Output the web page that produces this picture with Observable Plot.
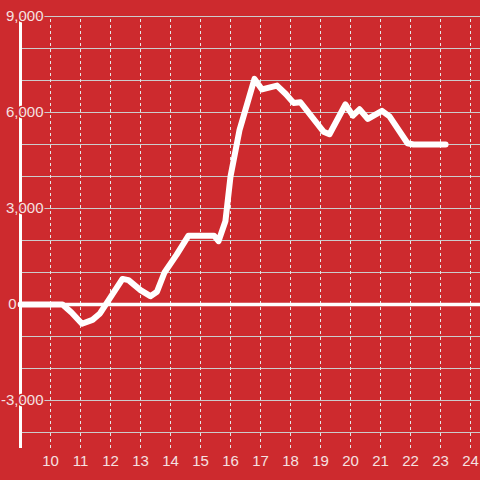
<!DOCTYPE html>
<html>
<head>
<meta charset="utf-8">
<script src="https://cdn.jsdelivr.net/npm/d3@7"></script>
<script src="https://cdn.jsdelivr.net/npm/@observablehq/plot@0.6"></script>
<style>
  html, body { margin: 0; padding: 0; background: #cd2a2e; }
</style>
</head>
<body>
<div id="chart"></div>
<script>
// Data
const hours  = [9, 10.4, 10.7, 11.05, 11.4, 11.65, 12.4, 12.6, 13.0, 13.33, 13.55, 13.8, 14.2, 14.6, 15.45, 15.6, 15.83, 16.0, 16.3, 16.8, 17.05, 17.55, 17.85, 18.1, 18.33, 19.1, 19.3, 19.83, 20.08, 20.3, 20.58, 21.05, 21.3, 21.9, 22.1, 23.17];
const values = [0, 0, -250, -600, -480, -280, 800, 760, 450, 260, 400, 1000, 1550, 2150, 2150, 1980, 2600, 4000, 5450, 7050, 6720, 6840, 6570, 6300, 6320, 5400, 5320, 6250, 5900, 6100, 5800, 6050, 5880, 5040, 5000, 5000];

const xTicks = [10, 11, 12, 13, 14, 15, 16, 17, 18, 19, 20, 21, 22, 23, 24];
const yGrid = [-4000, -3000, -2000, -1000, 1000, 2000, 3000, 4000, 5000, 6000, 7000, 8000, 9000];
const yLabels = [9000, 6000, 3000, -3000];
const yZero = [0];

const xDomain = [9, 24 + 1/3];
const yDomain = [-4500, 9000];

const bg = "#cd2a2e";
const ink = "#f5e1e1";
const fmt = d => d.toLocaleString("en-US");

const data = hours.map((h, i) => ({h, v: values[i]}));

const chart = Plot.plot({
  width: 480,
  height: 480,
  marginLeft: 20,
  marginRight: 0,
  marginTop: 16,
  marginBottom: 32,
  x: {domain: xDomain, axis: null},
  y: {domain: yDomain, axis: null},
  style: {background: bg, fontFamily: "'Liberation Sans', Arial, sans-serif"},
  marks: [
    Plot.ruleY(yGrid, {x1: xDomain[0], x2: xDomain[1], stroke: "#cccccc", strokeWidth: 1}),
    Plot.ruleX(xTicks, {y1: yDomain[0], y2: yDomain[1], stroke: "#e6e6e6", strokeWidth: 1, strokeDasharray: "3,3"}),
    Plot.ruleX([xDomain[0]], {y1: yDomain[0], y2: yDomain[1], stroke: "#ffffff", strokeWidth: 3}),
    Plot.ruleY(yZero, {x1: xDomain[0], x2: xDomain[1], stroke: "#ffffff", strokeWidth: 3.5}),
    Plot.line(data, {x: "h", y: "v", stroke: "#ffffff", strokeWidth: 6, strokeLinejoin: "round"}),
    Plot.text(yLabels, {x: xDomain[0], y: d => d, text: fmt, textAnchor: "end", dx: 23, fill: ink, stroke: bg, strokeWidth: 3, fontSize: 15}),
    Plot.text(yZero, {x: xDomain[0], y: d => d, text: fmt, textAnchor: "end", dx: -4, fill: ink, stroke: bg, strokeWidth: 3, fontSize: 15}),
    Plot.text(xTicks, {x: d => d, y: yDomain[0], text: d => String(d), dy: 13, fill: ink, fontSize: 15})
  ]
});
document.getElementById("chart").appendChild(chart);
</script>
</body>
</html>
